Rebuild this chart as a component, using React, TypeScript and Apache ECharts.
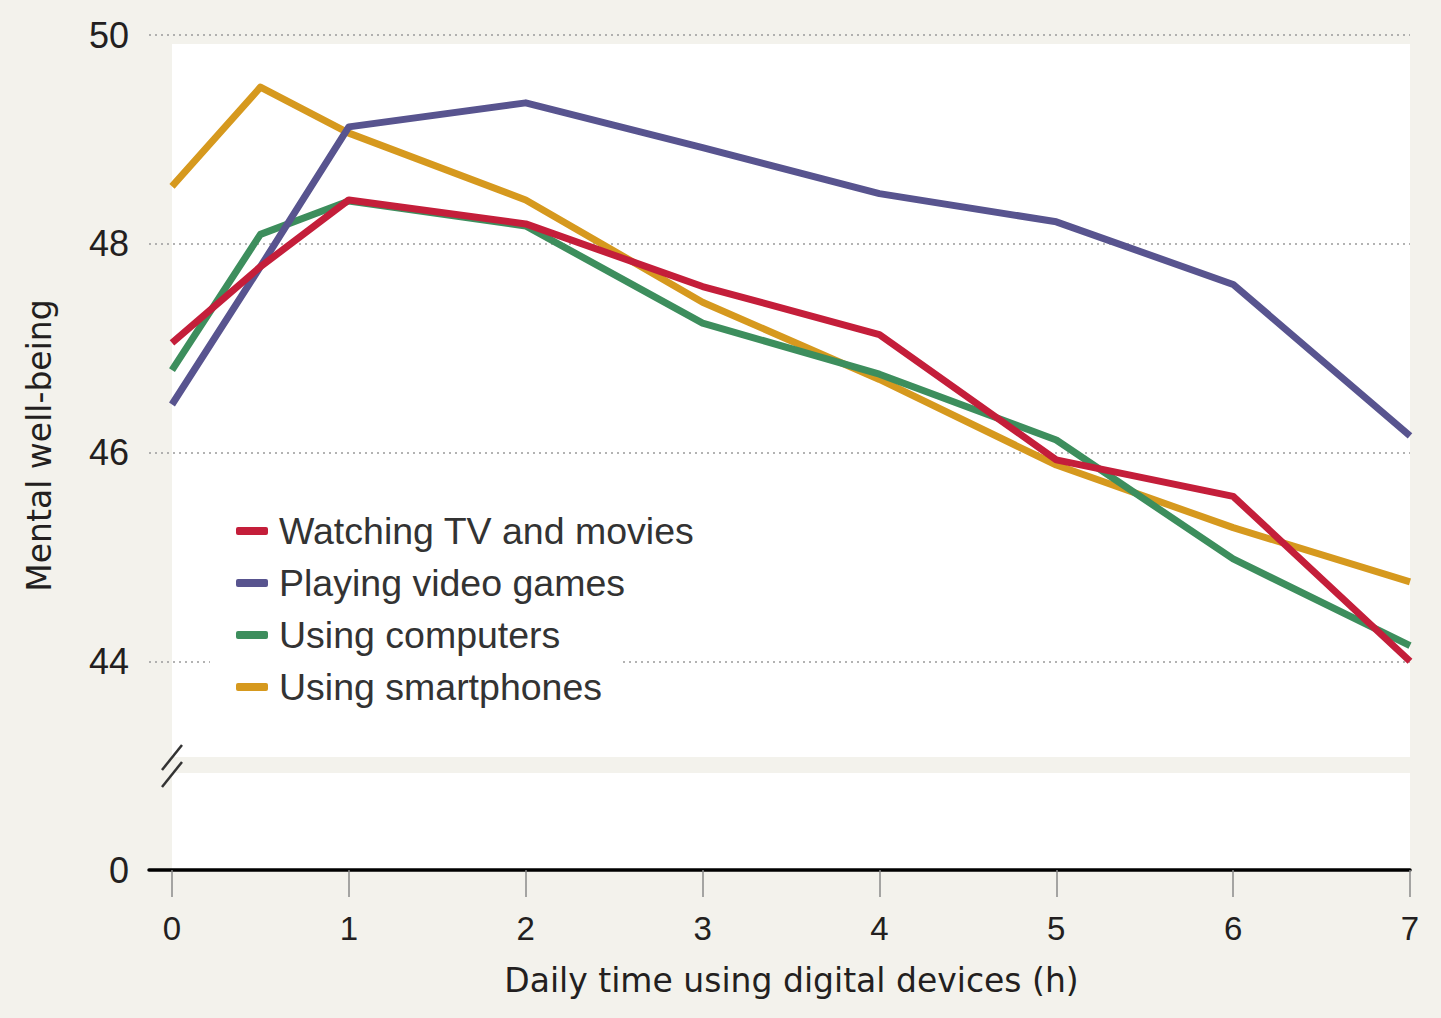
import React, { useEffect, useRef } from "react";
import * as echarts from "echarts";

const hours = [0, 0.5, 1, 2, 3, 4, 5, 6, 7];
const tvMovies = [47.05, 47.78, 48.42, 48.19, 47.59, 47.13, 45.93, 45.58, 44.0];
const videoGames = [46.46, 47.78, 49.12, 49.35, 48.92, 48.48, 48.21, 47.61, 46.16];
const computers = [46.79, 48.09, 48.41, 48.17, 47.24, 46.75, 46.12, 44.98, 44.15];
const smartphones = [48.55, 49.5, 49.06, 48.42, 47.44, 46.7, 45.88, 45.28, 44.76];

const seriesNames = ["Watching TV and movies", "Playing video games", "Using computers", "Using smartphones"];
const seriesColors = ["#c41e3a", "#58548f", "#3d8e5d", "#d6991e"];
const xTickValues = [0, 1, 2, 3, 4, 5, 6, 7];
const yTickLabels: Record<number, string> = { 42: "0", 44: "44", 46: "46", 48: "48", 50: "50" };

const FONT = "Liberation Sans, Arial, sans-serif";
const TITLE_FONT = "DejaVu Sans, Liberation Sans, sans-serif";
const BEIGE = "#f3f2ec";

export default function App() {
  const ref = useRef<HTMLDivElement>(null);
  useEffect(() => {
    if (!ref.current) return;
    const chart = echarts.init(ref.current, undefined, { renderer: "svg" });
    const allData = [tvMovies, videoGames, computers, smartphones];
    const zs = [6, 5, 4, 3];
    const option: any = {
      animation: false,
      backgroundColor: BEIGE,
      textStyle: { fontFamily: FONT },
      grid: { left: 149, right: 31, top: 35, bottom: 148, containLabel: false },
      xAxis: {
        type: "value",
        min: -0.13,
        max: 7,
        name: "Daily time using digital devices (h)",
        nameLocation: "middle",
        nameGap: 94,
        nameTextStyle: { fontSize: 33, color: "#231f20", fontFamily: TITLE_FONT, padding: [0, 0, 0, 24] },
        axisLine: { show: true, onZero: false, lineStyle: { color: "#000", width: 3.5 } },
        axisTick: { show: true, customValues: xTickValues, length: 27, lineStyle: { color: "#8a8a8a", width: 1.5 } },
        axisLabel: { customValues: xTickValues, fontSize: 33, color: "#231f20", margin: 42, fontFamily: FONT },
        splitLine: { show: false },
      },
      yAxis: {
        type: "value",
        min: 42,
        max: 50,
        interval: 2,
        name: "Mental well-being",
        nameLocation: "middle",
        nameGap: 93,
        nameRotate: 90,
        nameTextStyle: { fontSize: 33, color: "#231f20", fontFamily: TITLE_FONT, padding: [0, 0, 0, 14] },
        axisLine: { show: false },
        axisTick: { show: false },
        axisLabel: {
          fontSize: 36,
          color: "#231f20",
          margin: 20,
          fontFamily: FONT,
          formatter: (v: number) => yTickLabels[v] ?? "",
        },
        splitLine: {
          show: true,
          lineStyle: { color: "#9a9a9a", type: [2, 4], width: 1.5 },
        },
      },
      legend: {
        show: true,
        orient: "vertical",
        left: 231,
        top: 506,
        icon: "roundRect",
        itemWidth: 32,
        itemHeight: 8,
        itemGap: 12,
        data: seriesNames,
        textStyle: { fontSize: 37.5, color: "#333", lineHeight: 40, fontFamily: FONT, padding: [0, 0, 0, 6] },
      },
      graphic: [
        { type: "rect", z: -10, shape: { x: 172, y: 44, width: 1238, height: 826 }, style: { fill: "#ffffff" } },
        { type: "rect", z: -9, shape: { x: 172, y: 757, width: 1238, height: 16 }, style: { fill: BEIGE } },
        { type: "rect", z: 1, shape: { x: 210, y: 495, width: 412, height: 222 }, style: { fill: "#ffffff" } },
        { type: "line", z: 10, shape: { x1: 182, y1: 745, x2: 162, y2: 770 }, style: { stroke: "#333", lineWidth: 2.5 } },
        { type: "line", z: 10, shape: { x1: 182, y1: 762, x2: 162, y2: 787 }, style: { stroke: "#333", lineWidth: 2.5 } },
      ],
      series: seriesNames.map((name, i) => ({
        name,
        type: "line",
        z: zs[i],
        data: hours.map((h, j) => [h, allData[i][j]]),
        showSymbol: false,
        symbol: "none",
        color: seriesColors[i],
        lineStyle: { width: 7, color: seriesColors[i], join: "round" },
        itemStyle: { color: seriesColors[i] },
      })),
    };
    chart.setOption(option);
    return () => chart.dispose();
  }, []);
  return (
    <div
      ref={ref}
      style={{ position: "absolute", left: 0, top: 0, width: 1441, height: 1018 }}
    />
  );
}
